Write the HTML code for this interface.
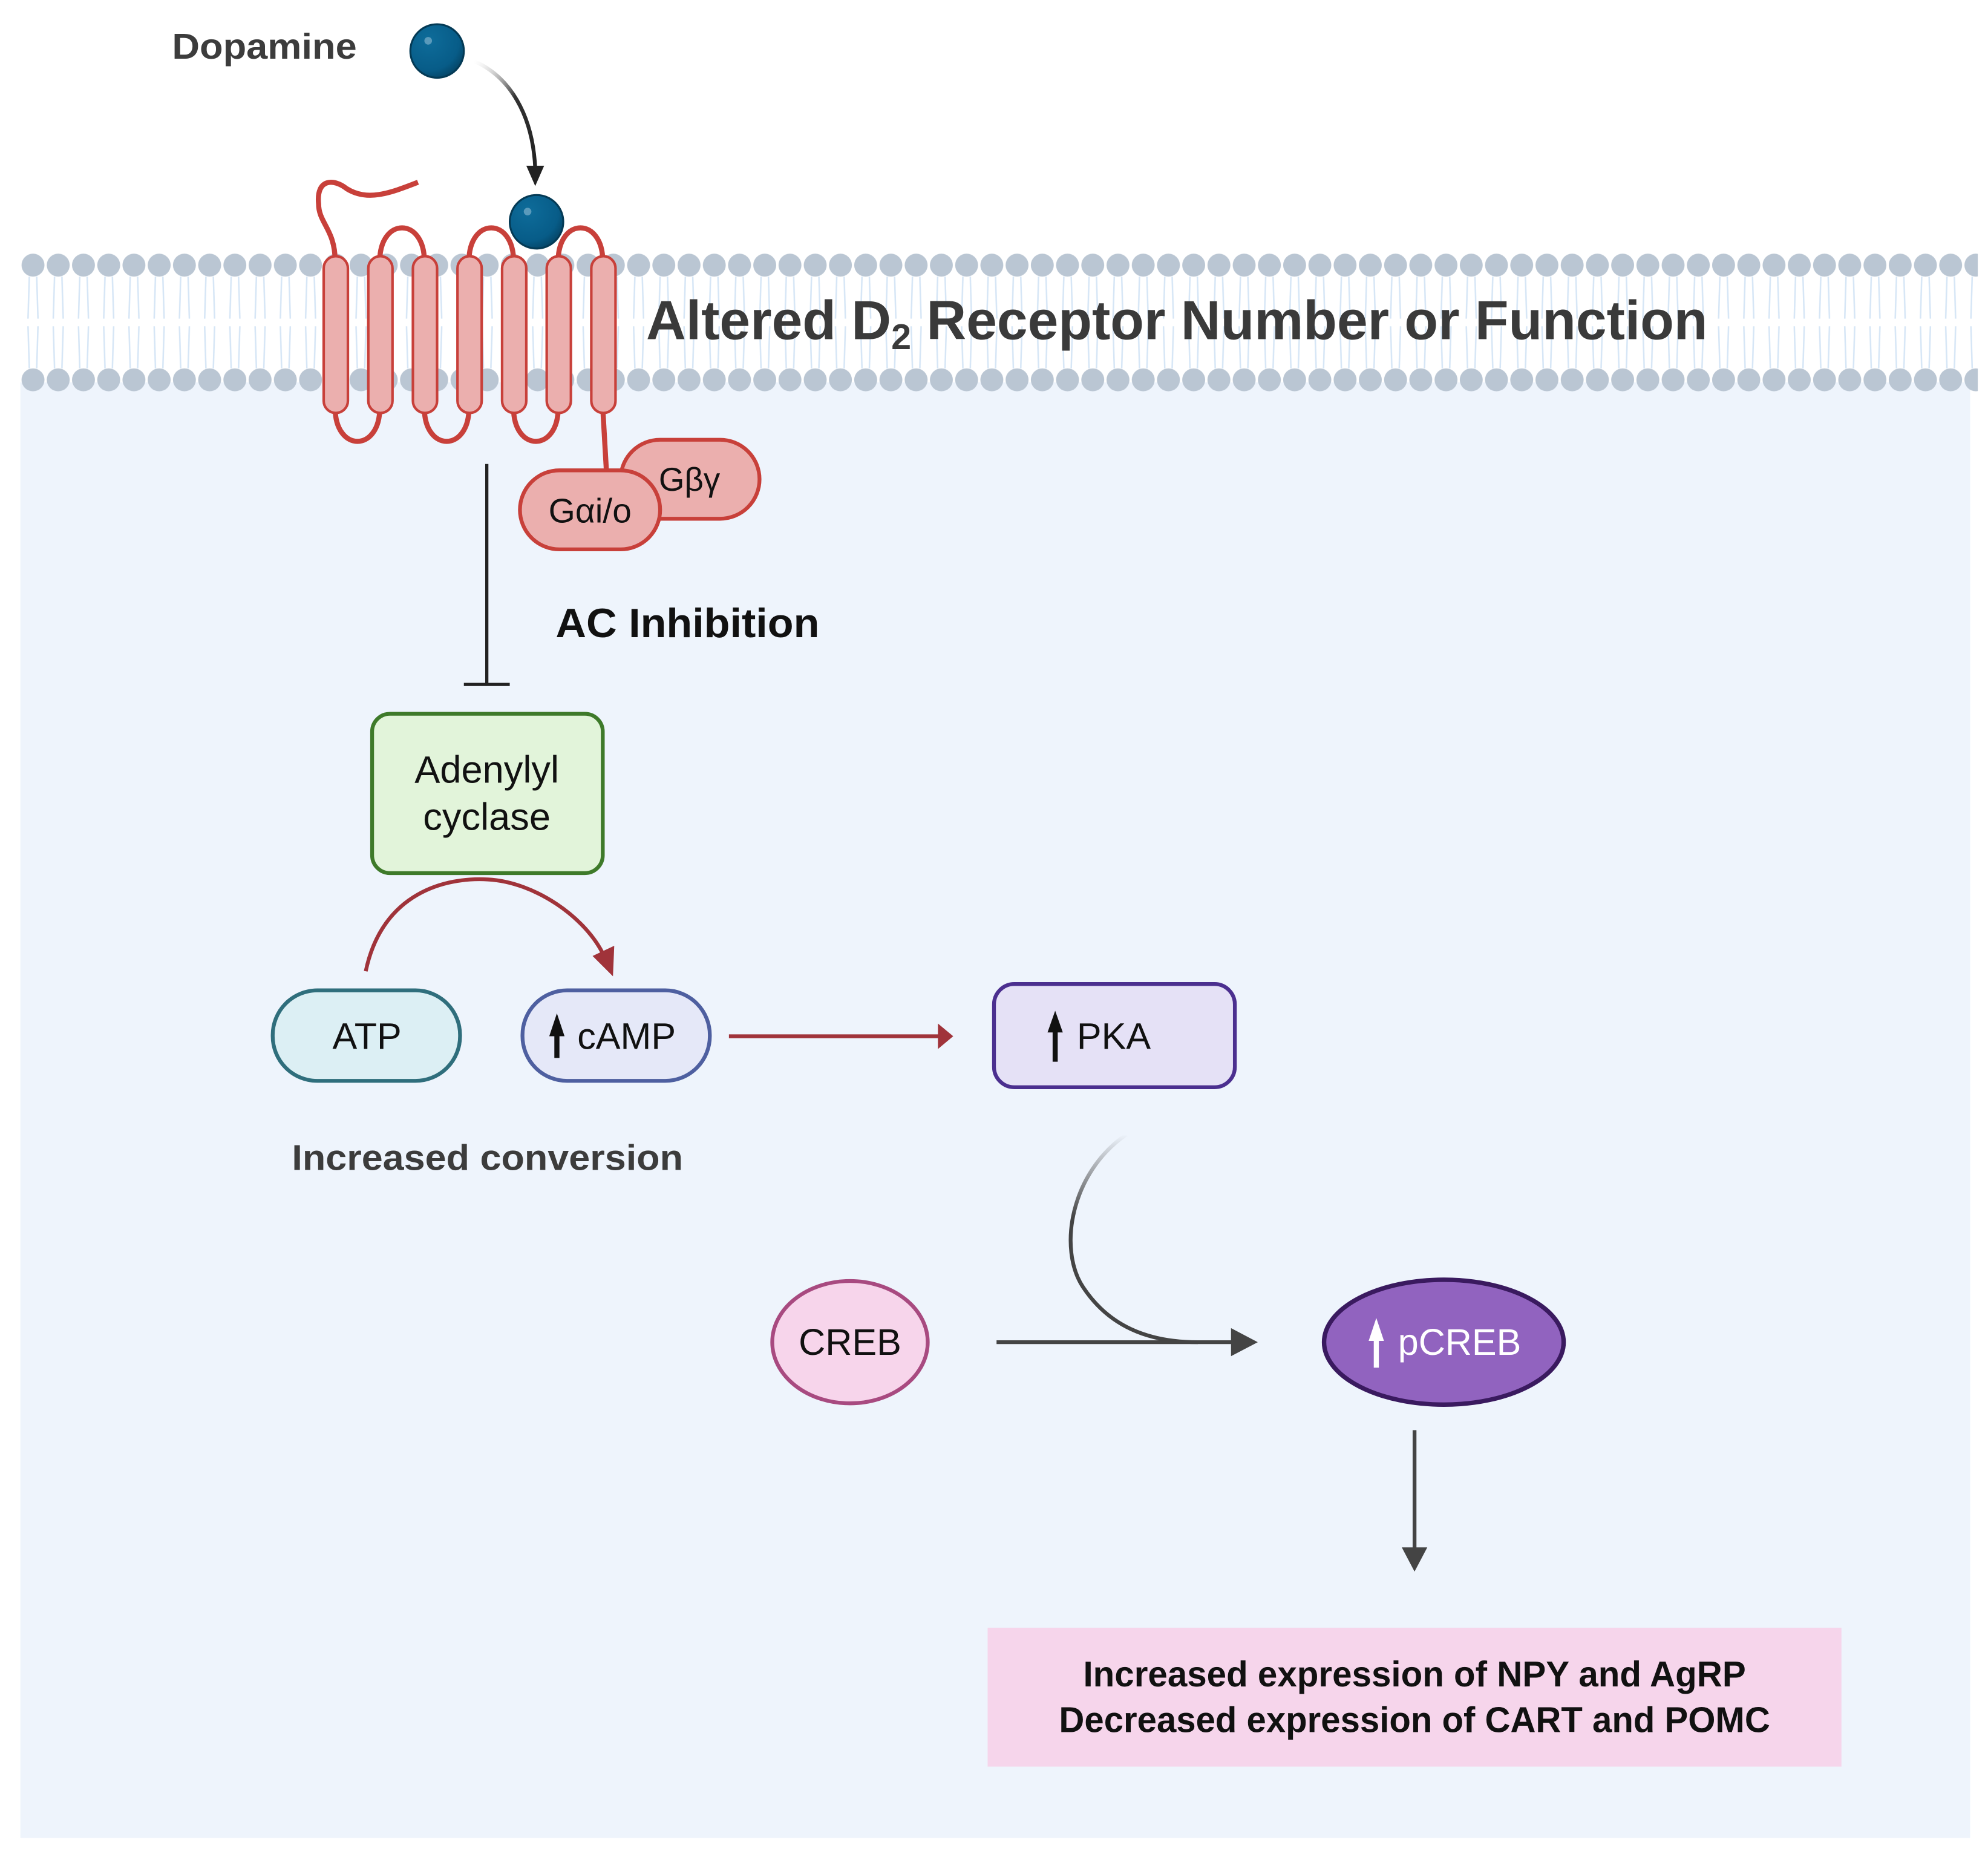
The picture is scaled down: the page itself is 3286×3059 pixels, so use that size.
<!DOCTYPE html>
<html><head><meta charset="utf-8"><style>
html,body{margin:0;padding:0;background:#fff;}
svg{display:block;}
text{font-family:"Liberation Sans",sans-serif;}
</style></head><body>
<svg width="3286" height="3059" viewBox="0 0 1560 1452.2" preserveAspectRatio="none" xmlns="http://www.w3.org/2000/svg">
<defs>
<pattern id="heads" x="16" y="0" width="19.8" height="400" patternUnits="userSpaceOnUse">
<circle cx="9.9" cy="208" r="9" fill="#BAC6D3"/>
<circle cx="9.9" cy="298" r="9" fill="#BAC6D3"/>
</pattern>
<pattern id="tails" x="16" y="0" width="19.8" height="400" patternUnits="userSpaceOnUse">
<path d="M7 217 L6 250 M12.8 217 L13.8 250 M6 256 L7 289 M13.8 256 L12.8 289" stroke="#D6E6F6" stroke-width="1.2" fill="none"/>
</pattern>
<radialGradient id="ball" cx="0.35" cy="0.3" r="0.8">
<stop offset="0" stop-color="#0E6C9A"/><stop offset="0.7" stop-color="#075C88"/><stop offset="1" stop-color="#053F5E"/>
</radialGradient>
<linearGradient id="fadeA" x1="0" y1="0" x2="1" y2="1">
<stop offset="0" stop-color="#fff" stop-opacity="0.2"/><stop offset="0.5" stop-color="#333"/><stop offset="1" stop-color="#222"/>
</linearGradient>
<linearGradient id="fadeB" x1="0" y1="0" x2="0" y2="1">
<stop offset="0" stop-color="#eef4fc"/><stop offset="0.4" stop-color="#444"/><stop offset="1" stop-color="#444"/>
</linearGradient>
</defs>
<rect x="16" y="300" width="1530" height="1142" fill="#EEF4FC"/>
<rect x="16" y="196" width="1536" height="112" fill="url(#tails)"/>
<rect x="16" y="196" width="1536" height="112" fill="url(#heads)"/>

<g fill="none" stroke="#C8403A" stroke-width="4">
<path d="M263 205 C263 180 250 175 250 160 C248 140 262 140 272 148 C288 158 305 152 328 143"/>
<path d="M298 205 C298 170 333 170 333 205"/>
<path d="M368 205 C368 170 403 170 403 205"/>
<path d="M438 205 C438 170 473 170 473 205"/>
<path d="M263 320 C263 355 298 355 298 320"/>
<path d="M333 320 C333 355 368 355 368 320"/>
<path d="M403 320 C403 355 438 355 438 320"/>
<path d="M473 320 L476 372"/>
</g>
<g fill="#EBAFAE" stroke="#C8403A" stroke-width="2">
<rect x="254" y="201" width="19" height="123" rx="9.5"/>
<rect x="289" y="201" width="19" height="123" rx="9.5"/>
<rect x="324" y="201" width="19" height="123" rx="9.5"/>
<rect x="359" y="201" width="19" height="123" rx="9.5"/>
<rect x="394" y="201" width="19" height="123" rx="9.5"/>
<rect x="429" y="201" width="19" height="123" rx="9.5"/>
<rect x="464" y="201" width="19" height="123" rx="9.5"/>
</g>
<rect x="487" y="345" width="109" height="62" rx="31" fill="#EBAFAE" stroke="#C8403A" stroke-width="3"/>
<text x="541" y="385" font-size="26" text-anchor="middle" fill="#111">Gβγ</text>
<rect x="408" y="369" width="110" height="62" rx="31" fill="#EBAFAE" stroke="#C8403A" stroke-width="3"/>
<text x="463" y="410" font-size="27" text-anchor="middle" fill="#111">Gαi/o</text>

<text x="135" y="46" font-size="28" font-weight="bold" fill="#3C3C3C" textLength="145" lengthAdjust="spacingAndGlyphs">Dopamine</text>
<circle cx="343" cy="40" r="21" fill="url(#ball)" stroke="#043A55" stroke-width="1.5"/>
<circle cx="336" cy="32" r="3" fill="#5A9ABB"/>
<path d="M372 48 C400 60 418 90 420 132" fill="none" stroke="url(#fadeA)" stroke-width="3"/>
<path d="M413 130 L427 130 L420 146 Z" fill="#222"/>
<circle cx="421" cy="174" r="21" fill="url(#ball)" stroke="#043A55" stroke-width="1.5"/>
<circle cx="414" cy="166" r="3" fill="#5A9ABB"/>

<text x="507" y="266" font-size="43" font-weight="bold" fill="#3A3A3A" textLength="833" lengthAdjust="spacingAndGlyphs">Altered D<tspan font-size="28" dy="8">2</tspan><tspan dy="-8"> Receptor Number or Function</tspan></text>

<line x1="382" y1="364" x2="382" y2="537" stroke="#222" stroke-width="2.5"/>
<line x1="364" y1="537" x2="400" y2="537" stroke="#222" stroke-width="2.5"/>
<text x="436" y="500" font-size="32" font-weight="bold" fill="#111" textLength="207" lengthAdjust="spacingAndGlyphs">AC Inhibition</text>

<rect x="292" y="560" width="181" height="125" rx="14" fill="#E2F4DA" stroke="#3E7A2A" stroke-width="3"/>
<text x="382" y="614" font-size="30" text-anchor="middle" fill="#111">Adenylyl</text>
<text x="382" y="651" font-size="30" text-anchor="middle" fill="#111">cyclase</text>

<path d="M287 762 C300 700 350 688 383 690 C420 692 460 720 474 750" fill="none" stroke="#A0333A" stroke-width="3"/>
<path d="M465 750 L482 742 L481 766 Z" fill="#A0333A"/>

<rect x="214" y="777" width="147" height="71" rx="35" fill="#DCEFF4" stroke="#2F6E7C" stroke-width="3"/>
<text x="288" y="823" font-size="29" text-anchor="middle" fill="#111">ATP</text>
<rect x="410" y="777" width="147" height="71" rx="35" fill="#E5E8F8" stroke="#4E5FA0" stroke-width="3"/>
<path d="M437 795 L443 813 L439 813 L439 830 L435 830 L435 813 L431 813 Z" fill="#111"/>
<text x="453" y="823" font-size="29" fill="#111">cAMP</text>

<line x1="572" y1="813" x2="738" y2="813" stroke="#A0333A" stroke-width="3"/>
<path d="M736 803 L748 813 L736 823 Z" fill="#A0333A"/>

<rect x="780" y="772" width="189" height="81" rx="16" fill="#E5E1F6" stroke="#4B2F8F" stroke-width="3"/>
<path d="M828 793 L834 810 L830 810 L830 833 L826 833 L826 810 L822 810 Z" fill="#111"/>
<text x="845" y="823" font-size="29" fill="#111">PKA</text>

<text x="229" y="918" font-size="28" font-weight="bold" fill="#3C3C3C" textLength="307" lengthAdjust="spacingAndGlyphs">Increased conversion</text>

<path d="M884 890 C840 920 830 980 850 1010 C870 1040 900 1053 940 1053" fill="none" stroke="url(#fadeB)" stroke-width="3"/>

<ellipse cx="667" cy="1053" rx="61" ry="48" fill="#F7D5EB" stroke="#A84A80" stroke-width="3"/>
<text x="667" y="1063" font-size="29" text-anchor="middle" fill="#111">CREB</text>
<line x1="782" y1="1053" x2="970" y2="1053" stroke="#444" stroke-width="3"/>
<path d="M966 1042 L987 1053 L966 1064 Z" fill="#444"/>

<ellipse cx="1133" cy="1053" rx="94" ry="49" fill="#9163BF" stroke="#3A1A5F" stroke-width="3.5"/>
<path d="M1080 1034 L1086 1052 L1082 1052 L1082 1073 L1078 1073 L1078 1052 L1074 1052 Z" fill="#fff"/>
<text x="1097" y="1063" font-size="29" fill="#fff">pCREB</text>

<line x1="1110" y1="1122" x2="1110" y2="1218" stroke="#444" stroke-width="3"/>
<path d="M1100 1214 L1120 1214 L1110 1233 Z" fill="#444"/>

<rect x="775" y="1277" width="670" height="109" fill="#F6D5EB"/>
<text x="1110" y="1323" font-size="28" font-weight="bold" text-anchor="middle" fill="#111" textLength="520" lengthAdjust="spacingAndGlyphs">Increased expression of NPY and AgRP</text>
<text x="1110" y="1359" font-size="28" font-weight="bold" text-anchor="middle" fill="#111" textLength="558" lengthAdjust="spacingAndGlyphs">Decreased expression of CART and POMC</text>
</svg>
</body></html>
